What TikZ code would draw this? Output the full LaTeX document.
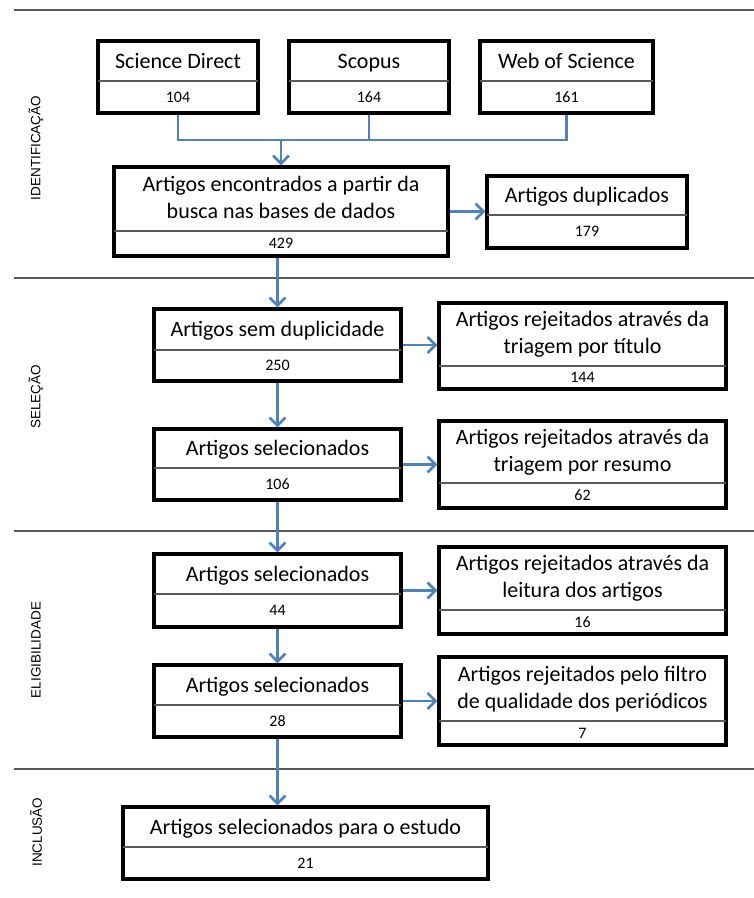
\documentclass[tikz,border=0pt]{standalone}
\usepackage{fontspec}
\setmainfont{Carlito}
\newfontfamily\phasefont{Liberation Sans}
\usepackage{xcolor}
\definecolor{OfficeBlue}{RGB}{79,129,189}
\definecolor{RuleGray}{RGB}{90,90,90}
\usetikzlibrary{positioning, fit, arrows.meta}

% name, left, top, right, split, bottom, title, count
\newcommand{\stagebox}[8]{%
  \node[frame, fit={(#2,#3) (#4,#6)}] (#1) {};
  \draw[split] (#2,#5) -- (#4,#5);
  \node[titletext] (#1-title) at ({(#2+#4)/2},{(#3+#5)/2}) {#7};
  \node[counttext] (#1-count) at ({(#2+#4)/2},{(#5+#6)/2}) {#8};
}

\begin{document}
\begin{tikzpicture}[x=1pt,y=-1pt,
    frame/.style={draw=black, line width=3.2pt, inner sep=0pt},
    split/.style={draw=RuleGray, line width=1.2pt},
    titletext/.style={align=center, inner sep=0pt, yshift=-2pt, font=\fontsize{22}{27}\selectfont,
      execute at begin node=\strut, execute at end node=\strut},
    counttext/.style={inner sep=0pt, yshift=-1.5pt, font=\fontsize{16}{19}\selectfont, execute at begin node=\strut},
    phase/.style={rotate=90, inner sep=0pt, font=\phasefont\fontsize{13.5}{15}\selectfont},
    sepline/.style={draw=RuleGray, line width=1.3pt},
    link/.style={draw=OfficeBlue, line width=2.8pt},
    flow/.style={link, -{Straight Barb[length=8pt,width=16pt,line width=2.6pt]}}]
  \useasboundingbox (0,0) rectangle (754,898);
  \draw[sepline] (14,10) -- (754,10) (14,278) -- (754,278) (14,531) -- (754,531) (14,769) -- (754,769);
  \node[phase] (ident) at (36,148) {IDENTIFICAÇÃO};
  \node[phase] (selec) at (36,397) {SELEÇÃO};
  \node[phase] (eleg) at (36,650) {ELIGIBILIDADE};
  \node[phase] (incl) at (36,832) {INCLUSÃO};
  \stagebox{sd}{98}{41}{258}{81}{113}{Science Direct}{104}
  \stagebox{scopus}{289}{41}{449}{81}{113}{Scopus}{164}
  \stagebox{wos}{480}{41}{653}{81}{113}{Web of Science}{161}
  \stagebox{found}{114}{167}{448}{231}{256}{Artigos encontrados a partir da\\busca nas bases de dados}{429}
  \stagebox{dup}{487}{176}{687}{215}{248}{Artigos duplicados}{179}
  \stagebox{nodup}{154}{309}{401}{350}{381}{Artigos sem duplicidade}{250}
  \stagebox{rtitle}{439}{303}{726}{366}{389}{Artigos rejeitados através da\\triagem por título}{144}
  \stagebox{sela}{154}{429}{401}{468}{500}{Artigos selecionados}{106}
  \stagebox{rabstract}{439}{421}{726}{483}{508}{Artigos rejeitados através da\\triagem por resumo}{62}
  \stagebox{selb}{154}{554}{401}{594}{627}{Artigos selecionados}{44}
  \stagebox{rreading}{439}{547}{726}{610}{634}{Artigos rejeitados através da\\leitura dos artigos}{16}
  \stagebox{selc}{154}{665}{401}{705}{737}{Artigos selecionados}{28}
  \stagebox{rfilter}{439}{657}{726}{721}{745}{Artigos rejeitados pelo filtro\\de qualidade dos periódicos}{7}
  \stagebox{final}{123}{807}{488}{847}{879}{Artigos selecionados para o estudo}{21}
  \coordinate (merge) at (found.north |- 0,140);
  \draw[link] (sd.south) |- (merge) -| (wos.south);
  \draw[link] (scopus.south) -- (scopus.south |- merge);
  \draw[flow] (merge) -- (found.north);
  \draw[flow] (found.east) -- (found.east -| dup.west);
  \draw[flow] (nodup.north |- found.south) -- (nodup.north);
  \draw[flow] (nodup.east) -- (nodup.east -| rtitle.west);
  \draw[flow] (nodup.south) -- (sela.north);
  \draw[flow] (sela.east) -- (sela.east -| rabstract.west);
  \draw[flow] (sela.south) -- (selb.north);
  \draw[flow] (selb.east) -- (selb.east -| rreading.west);
  \draw[flow] (selb.south) -- (selc.north);
  \draw[flow] (selc.east) -- (selc.east -| rfilter.west);
  \draw[flow] (selc.south) -- (selc.south |- final.north);
\end{tikzpicture}
\end{document}
